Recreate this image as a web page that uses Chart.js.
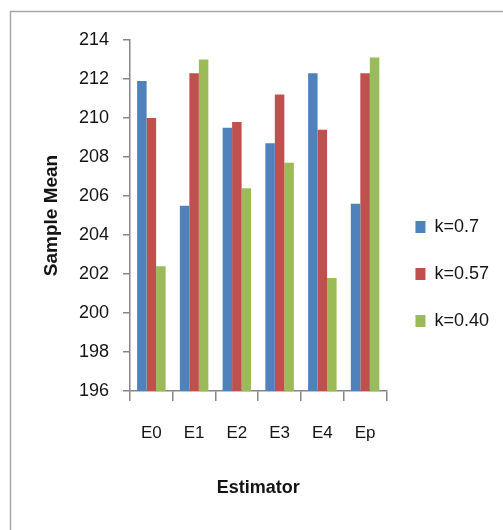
<!DOCTYPE html>
<html>
<head>
<meta charset="utf-8">
<script src="https://cdn.jsdelivr.net/npm/chart.js@4/dist/chart.umd.min.js"></script>
<style>
  body { margin: 0; background: #fff; }
  #wrap { position: relative; width: 503px; height: 530px; }
</style>
</head>
<body>
<div id="wrap"><canvas id="myChart"></canvas></div>
<script>
// values
const estimators = ['E0', 'E1', 'E2', 'E3', 'E4', 'Ep'];
const k070 = [211.9, 205.5, 209.5, 208.7, 212.3, 205.6];
const k057 = [210.0, 212.3, 209.8, 211.2, 209.4, 212.3];
const k040 = [202.4, 213.0, 206.4, 207.7, 201.8, 213.1];
const seriesNames = ['k=0.7', 'k=0.57', 'k=0.40'];
const yMin = 196, yMax = 214, yStep = 2;

const fontFam = "'Liberation Sans', Arial, sans-serif";
const axisGray = '#868686';
const textCol = '#141414';

// the grey frame round the whole chart, like the excel chart border
const frame = {
  id: 'frame',
  beforeDraw(chart) {
    const c = chart.ctx;
    c.save();
    c.fillStyle = '#fff';
    c.fillRect(0, 0, chart.width, chart.height);
    c.strokeStyle = '#a6a6a6';
    c.lineWidth = 1.5;
    c.strokeRect(10.5, 11.5, 620, 620);
    c.restore();
  }
};

const data = {
  labels: estimators,
  datasets: [
    { label: seriesNames[0], data: k070, backgroundColor: '#4F81BD' },
    { label: seriesNames[1], data: k057, backgroundColor: '#C0504D' },
    { label: seriesNames[2], data: k040, backgroundColor: '#9BBB59' }
  ]
};

const config = {
  type: 'bar',
  data,
  plugins: [frame],
  options: {
    responsive: true,
    maintainAspectRatio: false,
    animation: false,
    datasets: { bar: { categoryPercentage: 0.667, barPercentage: 1.0 } },
    layout: { padding: { left: 30, right: 4, top: 40, bottom: 22 } },
    plugins: {
      tooltip: { enabled: false },
      legend: {
        position: 'right',
        labels: {
          boxWidth: 10,
          boxHeight: 12,
          padding: 29,
          color: textCol,
          font: { family: fontFam, size: 18 }
        }
      }
    },
    scales: {
      x: {
        grid: { drawOnChartArea: false, drawTicks: true, tickLength: 10, color: axisGray, lineWidth: 1.5 },
        border: { color: axisGray, width: 1.5 },
        ticks: { padding: 22, color: textCol, font: { family: fontFam, size: 17 } },
        title: {
          display: true, text: 'Estimator', color: textCol,
          font: { family: fontFam, size: 18, weight: 'bold' },
          padding: { top: 0, bottom: 9 }
        },
        afterFit(scale) { scale.height = 117; }
      },
      y: {
        min: yMin,
        max: yMax,
        grid: { drawOnChartArea: false, drawTicks: true, tickLength: 7, color: axisGray, lineWidth: 1.5 },
        border: { color: axisGray, width: 1.5 },
        ticks: { stepSize: yStep, padding: 14, color: textCol, font: { family: fontFam, size: 18 } },
        title: {
          display: true, text: 'Sample Mean', color: textCol,
          font: { family: fontFam, size: 19, weight: 'bold' },
          padding: { top: 10, bottom: 0 }
        },
        afterFit(scale) { scale.width = 100; }
      }
    }
  }
};

const myChart = new Chart(document.getElementById('myChart'), config);
</script>
</body>
</html>
